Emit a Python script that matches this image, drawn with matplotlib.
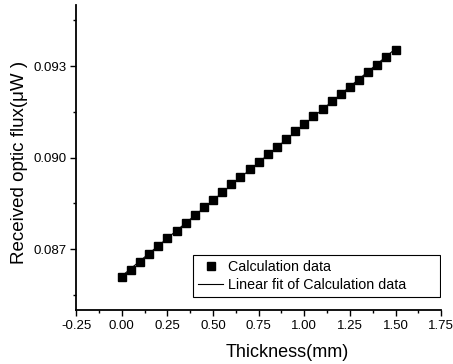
import numpy as np
import matplotlib
matplotlib.use("Agg")
import matplotlib.pyplot as plt
from matplotlib.ticker import MultipleLocator, FormatStrFormatter
from matplotlib.patches import Rectangle

thickness = [0.00, 0.05, 0.10, 0.15, 0.20, 0.25, 0.30, 0.35, 0.40, 0.45,
             0.50, 0.55, 0.60, 0.65, 0.70, 0.75, 0.80, 0.85, 0.90, 0.95,
             1.00, 1.05, 1.10, 1.15, 1.20, 1.25, 1.30, 1.35, 1.40, 1.45, 1.50]
flux = [0.08608, 0.08633, 0.08658, 0.08684, 0.08709, 0.08735, 0.08760, 0.08786,
        0.08811, 0.08837, 0.08862, 0.08887, 0.08912, 0.08937, 0.08962, 0.08987,
        0.09012, 0.09036, 0.09061, 0.09086, 0.09110, 0.09135, 0.09159, 0.09184,
        0.09208, 0.09232, 0.09256, 0.09280, 0.09305, 0.09329, 0.09353]
x_ticks = [-0.25, 0.00, 0.25, 0.50, 0.75, 1.00, 1.25, 1.50, 1.75]
y_ticks = [0.087, 0.090, 0.093]

plt.rcParams['font.family'] = ['Liberation Sans', 'DejaVu Sans']

fig = plt.figure(figsize=(4.53, 3.64), dpi=100)
ax = fig.add_axes([0.168, 0.148, 0.806, 0.838])

x = np.array(thickness)
y = np.array(flux)
coef = np.polyfit(x, y, 1)
fit_y = np.polyval(coef, x)

pts, = ax.plot(x, y, linestyle='none', marker='s', markersize=5.3, color='black',
               label='Calculation data', zorder=3)
fit, = ax.plot(x, fit_y, color='black', linewidth=0.8,
               label='Linear fit of Calculation data', zorder=2)

ax.set_xlim(-0.25, 1.75)
ax.set_ylim(0.085, 0.095)
ax.set_xticks(x_ticks)
ax.set_yticks(y_ticks)
ax.xaxis.set_major_formatter(FormatStrFormatter('%.2f'))
ax.yaxis.set_major_formatter(FormatStrFormatter('%.3f'))
ax.xaxis.set_minor_locator(MultipleLocator(0.125))
ax.yaxis.set_minor_locator(MultipleLocator(0.0015))

for s in ['top', 'right']:
    ax.spines[s].set_visible(False)
for s in ['left', 'bottom']:
    ax.spines[s].set_linewidth(1.3)

ax.tick_params(which='major', direction='out', length=4, width=1, labelsize=9.5, pad=3)
ax.tick_params(which='minor', direction='out', length=2.5, width=1)

ax.set_xlabel('Thickness(mm)', fontsize=13)
ax.xaxis.set_label_coords(0.578, -0.11)
ax.set_ylabel('Received optic flux(μW )', fontsize=13.5)
ax.yaxis.set_label_coords(-0.131, 0.485)

# legend frame (Origin style, wide box)
ax.add_patch(Rectangle((0.3205, 0.043), 0.6765, 0.137, transform=ax.transAxes,
                       facecolor='white', edgecolor='black', linewidth=0.8, zorder=4))
leg = ax.legend(handles=[pts, fit], loc='center left', bbox_to_anchor=(0.333, 0.112),
                fontsize=10.3, frameon=False, handlelength=1.8, handletextpad=0.3,
                borderpad=0, labelspacing=0.3, borderaxespad=0)
leg.set_zorder(5)

fig.savefig('out.png', dpi=100)
